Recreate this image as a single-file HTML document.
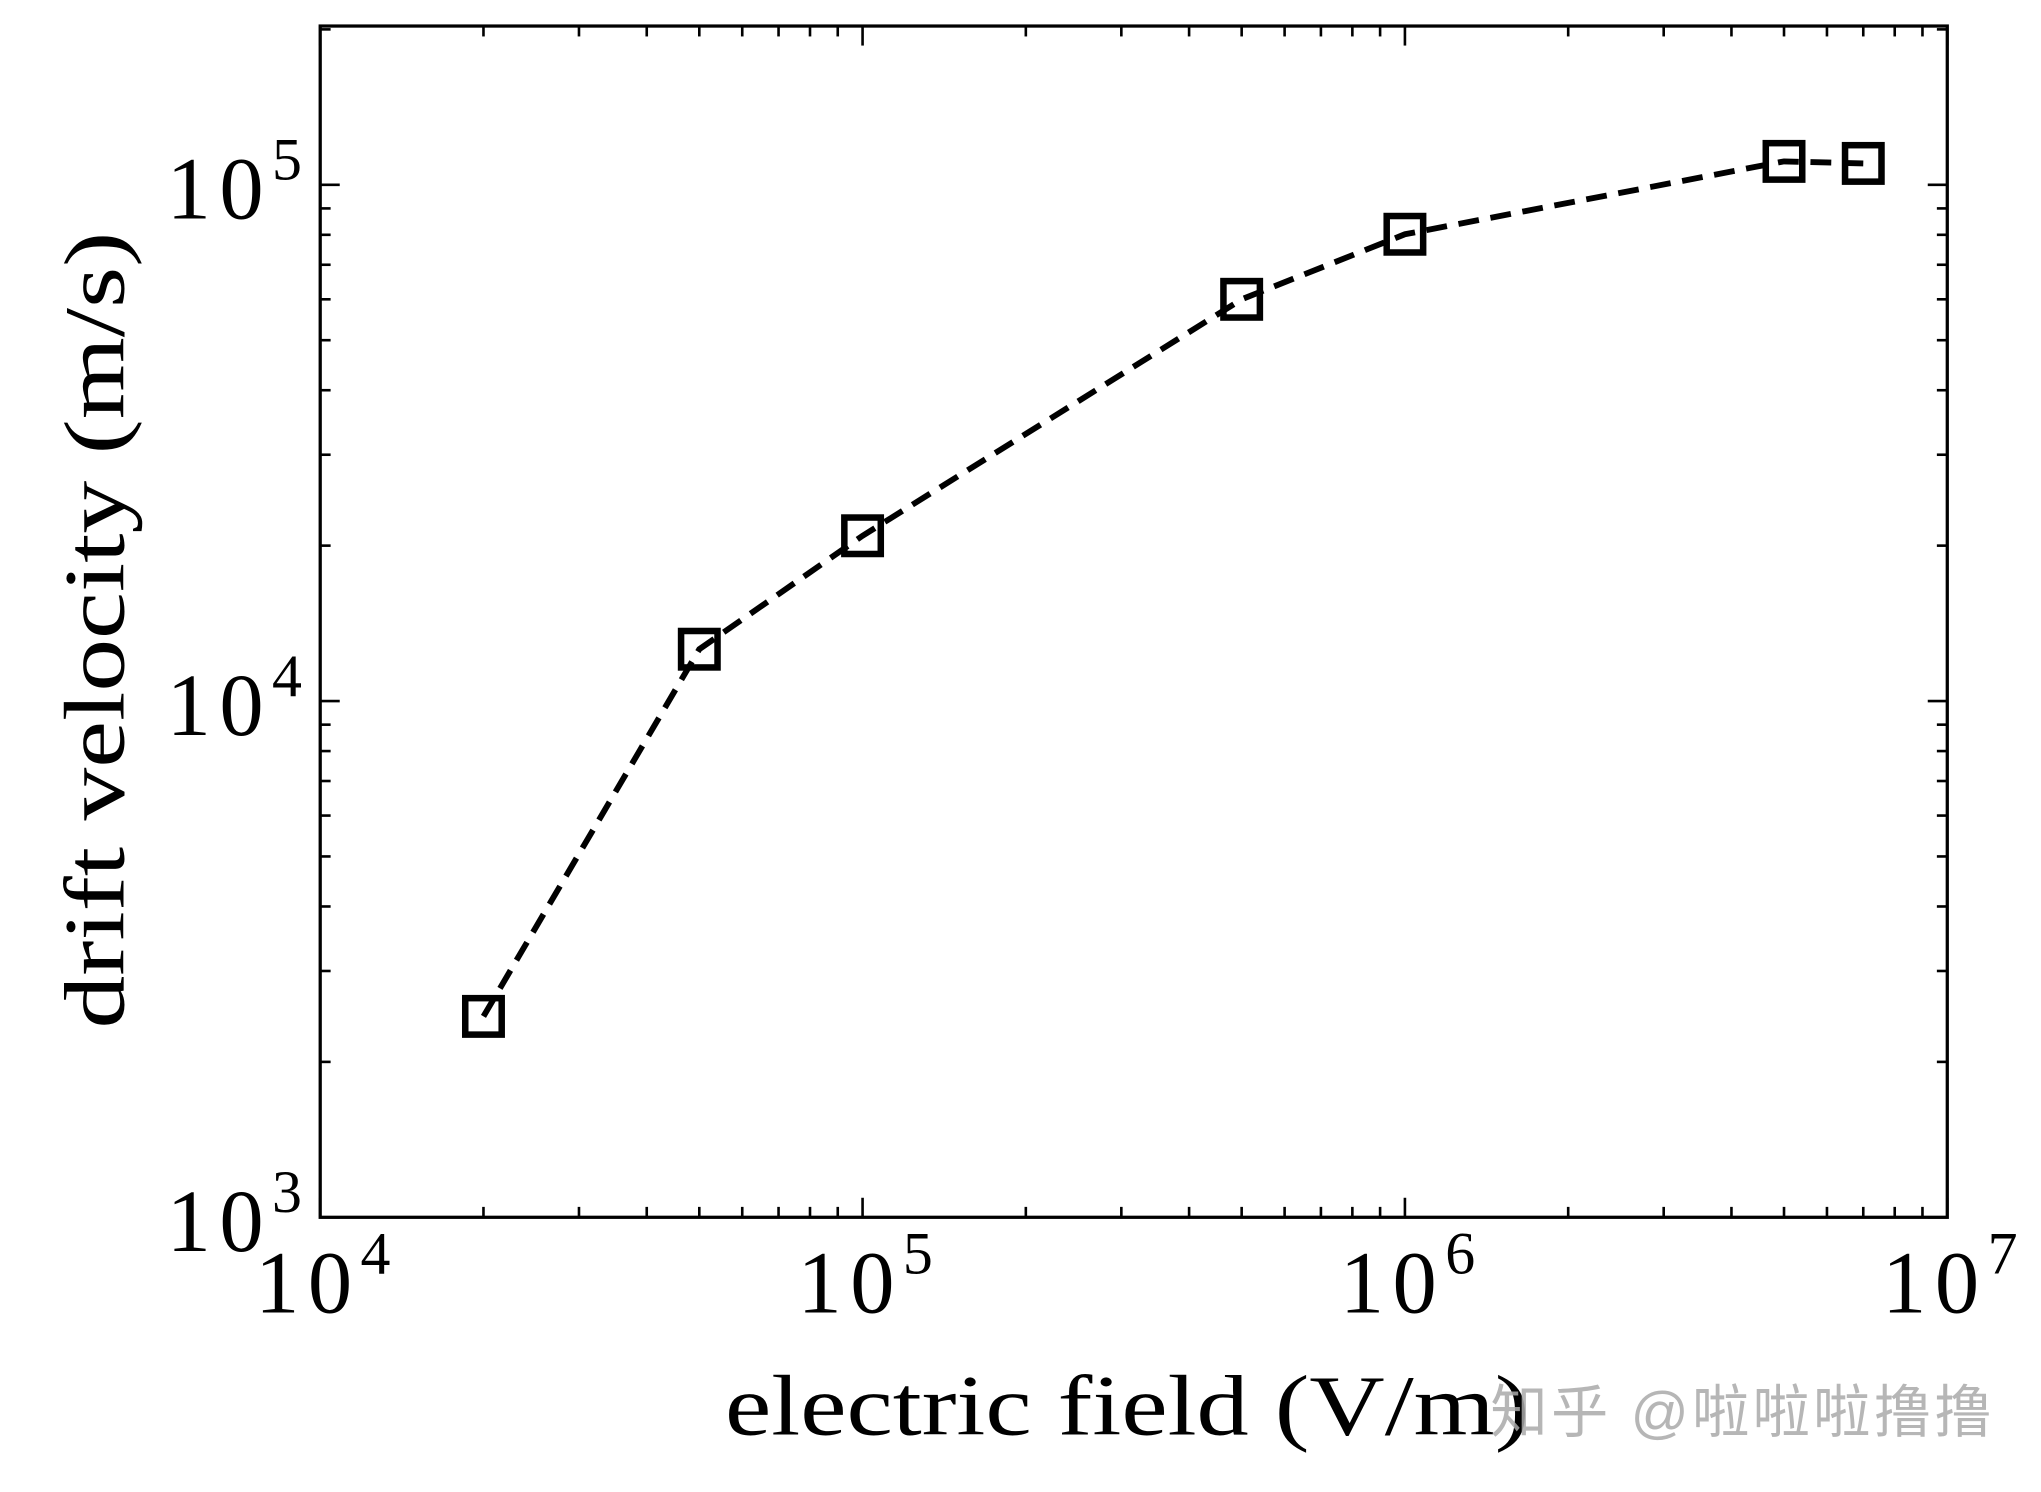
<!DOCTYPE html>
<html><head><meta charset="utf-8"><style>
html,body{margin:0;padding:0;background:#fff;}
svg{display:block;}
text{font-family:"Liberation Serif","Noto Serif CJK SC",serif;fill:#000;}
</style></head><body>
<svg id="chart" width="2041" height="1492" viewBox="0 0 1568 1146" preserveAspectRatio="none" xmlns="http://www.w3.org/2000/svg">
<rect width="1568" height="1146" fill="#fff"/>
<g id="ticks"></g>
<g id="series"></g>
<rect x="246" y="20" width="1250" height="915" fill="none" stroke="#000" stroke-width="2.5"/>
<text x="557" y="1102" font-size="66" textLength="618" lengthAdjust="spacingAndGlyphs">electric field (V/m)</text>
<text transform="translate(95,790) rotate(-90)" font-size="66" textLength="612" lengthAdjust="spacingAndGlyphs">drift velocity (m/s)</text>
<text x="1145" y="1100" font-size="44" textLength="385" style="font-family:'Liberation Sans','Noto Sans CJK SC',sans-serif;fill:#aaa;opacity:0.85">知乎 @啦啦啦撸撸</text>
</svg>
<script>
const xValues=[2e4,5e4,1e5,5e5,1e6,5e6,7e6];
const yValues=[2450,12600,20900,60000,80200,111000,110000];
const xTickExps=[4,5,6,7];
const yTickExps=[3,4,5];
const L=246,R=1496,T=20,B=935;
const xMinE=4,xMaxE=7,yMinE=3,yMaxE=Math.log10(2.03e5);
function xs(v){return L+(Math.log10(v)-xMinE)/(xMaxE-xMinE)*(R-L);}
function ys(v){return B-(Math.log10(v)-yMinE)/(yMaxE-yMinE)*(B-T);}
const NS='http://www.w3.org/2000/svg';
const tg=document.getElementById('ticks'),sg=document.getElementById('series');
function line(g,x1,y1,x2,y2,w,name){const l=document.createElementNS(NS,'line');
l.setAttribute('x1',x1);l.setAttribute('y1',y1);l.setAttribute('x2',x2);l.setAttribute('y2',y2);
l.setAttribute('stroke','#000');l.setAttribute('stroke-width',w);


g.appendChild(l);return l;}
function label(x,y,e,anchor,name){const t=document.createElementNS(NS,'text');
t.setAttribute('x',x);t.setAttribute('y',y);t.setAttribute('font-size','68');t.setAttribute('text-anchor',anchor);


t.setAttribute('textLength','104');
t.innerHTML='10<tspan font-size="46" dy="-30">'+e+'</tspan>';tg.appendChild(t);}
for(let e=xMinE;e<xMaxE;e++){for(let m=2;m<=9;m++){const x=xs(m*Math.pow(10,e));
line(tg,x,B,x,B-8,2,'x-minor-tick');line(tg,x,T,x,T+8,2,'x-minor-tick');}}
xTickExps.forEach(e=>{const x=xs(Math.pow(10,e));line(tg,x,B,x,B-15,2,'x-major-tick');line(tg,x,T,x,T+15,2,'x-major-tick');
label(x+2,1008,e,'middle','x-tick-label');});
for(let e=yMinE;e<6;e++){for(let m=2;m<=9;m++){const v=m*Math.pow(10,e);if(Math.log10(v)>yMaxE)continue;const y=ys(v);
line(tg,L,y,L+8,y,2,'y-minor-tick');line(tg,R,y,R-8,y,2,'y-minor-tick');}}
yTickExps.forEach(e=>{const y=ys(Math.pow(10,e));line(tg,L,y,L+15,y,2,'y-major-tick');line(tg,R,y,R-15,y,2,'y-major-tick');
label(232,y+26,e,'end','y-tick-label');});
const pts=xValues.map((v,i)=>xs(v)+','+ys(yValues[i])).join(' ');
const pl=document.createElementNS(NS,'polyline');pl.setAttribute('points',pts);pl.setAttribute('fill','none');
pl.setAttribute('stroke','#000');pl.setAttribute('stroke-width','4.5');pl.setAttribute('stroke-dasharray','16,9');


sg.appendChild(pl);
xValues.forEach((v,i)=>{const r=document.createElementNS(NS,'rect');const x=xs(v),y=ys(yValues[i]);
r.setAttribute('x',x-14);r.setAttribute('y',y-14);r.setAttribute('width',28);r.setAttribute('height',28);
r.setAttribute('fill','none');r.setAttribute('stroke','#000');r.setAttribute('stroke-width','5');


sg.appendChild(r);});
</script>
</body></html>
